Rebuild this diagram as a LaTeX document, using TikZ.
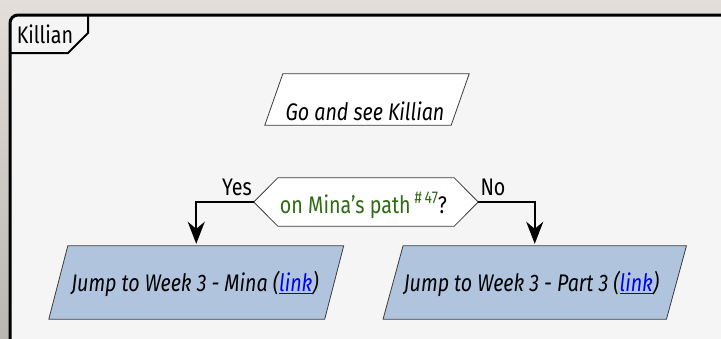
\documentclass[tikz,border=0pt]{standalone}
\usepackage{fontspec}
\setmainfont{Fira Sans}[FakeStretch=0.82]
\usetikzlibrary{arrows.meta,calc}
\definecolor{innerbg}{RGB}{245,245,245}
\definecolor{boxblue}{RGB}{176,196,222}
\definecolor{boxline}{RGB}{60,60,60}
\definecolor{decgreen}{RGB}{46,107,18}
\definecolor{linkblue}{RGB}{0,0,238}
\newcommand{\lnk}[1]{\textcolor{linkblue}{\underline{#1}}}
\tikzset{
  body/.style={font=\fontsize{24}{28}\selectfont},
  shapebox/.style={rectangle, inner sep=0pt},
  flowline/.style={line width=2pt, -{Stealth[length=22pt,width=17pt,inset=7pt]}},
  outline/.style={draw=boxline, line width=0.8pt},
  lbl/.style={body, inner sep=0pt, anchor=base},
}
\begin{document}
\begin{tikzpicture}[x=1pt,y=-1pt]
\useasboundingbox (0,0) rectangle (721,338);
\shade[top color={rgb,255:red,228;green,222;blue,218}, bottom color={rgb,255:red,185;green,182;blue,178}] (0,0) rectangle (721,338);
% frame
\fill[innerbg, rounded corners=8pt] (10,15) -- (740,15) -- (740,360) -- (10,360) -- cycle;
\draw[line width=3pt, rounded corners=8pt] (10,360) -- (10,15) -- (740,15);
\node[lbl] (title) at (45,43) {Killian};
\draw[line width=2pt] (88,15) -- (88,33) -- (68,53) -- (10,53);
% top box
\node[shapebox, minimum width=186pt, minimum height=51pt] (start) at (367,99.5) {};
\draw[outline, fill=white] ($(start.north west)+(9,0)$) -- ($(start.north east)+(9,0)$) -- ($(start.south east)-(9,0)$) -- ($(start.south west)-(9,0)$) -- cycle;
\node[lbl] (starttext) at (365,120) {\itshape Go and see Killian};
% decision
\node[shapebox, minimum width=224pt, minimum height=48pt] (dec) at (366,202) {};
\draw[outline, fill=white] (dec.west) -- ($(dec.north west)+(24,0)$) -- ($(dec.north east)-(24,0)$) -- (dec.east) -- ($(dec.south east)-(24,0)$) -- ($(dec.south west)+(24,0)$) -- cycle;
\node[lbl] (dectext) at (363.5,213) {\textcolor{decgreen}{on Mina\char"0027 s path\,\raisebox{10pt}{\fontsize{17}{19}\selectfont\#\,47}}?};
% bottom boxes
\node[shapebox, minimum width=275.5pt, minimum height=73pt] (mina) at (196.25,282.5) {};
\draw[outline, fill=boxblue] ($(mina.north west)+(9.5,0)$) -- ($(mina.north east)+(9.5,0)$) -- ($(mina.south east)-(9.5,0)$) -- ($(mina.south west)-(9.5,0)$) -- cycle;
\node[lbl] (minatext) at (195,291.5) {\itshape Jump to Week 3 - Mina (\lnk{link})};
\node[shapebox, minimum width=283pt, minimum height=73pt] (part) at (534.75,282.5) {};
\draw[outline, fill=boxblue] ($(part.north west)+(10,0)$) -- ($(part.north east)+(10,0)$) -- ($(part.south east)-(10,0)$) -- ($(part.south west)-(10,0)$) -- cycle;
\node[lbl] (parttext) at (531.5,291.5) {\itshape Jump to Week 3 - Part 3 (\lnk{link})};
% connectors
\draw[flowline] (dec.west) -| ([yshift=2pt]mina.north);
\draw[flowline] (dec.east) -| ([yshift=2pt]part.north);
\node[lbl] (yes) at (237,195) {Yes};
\node[lbl] (no) at (493,195) {No};
\end{tikzpicture}
\end{document}
